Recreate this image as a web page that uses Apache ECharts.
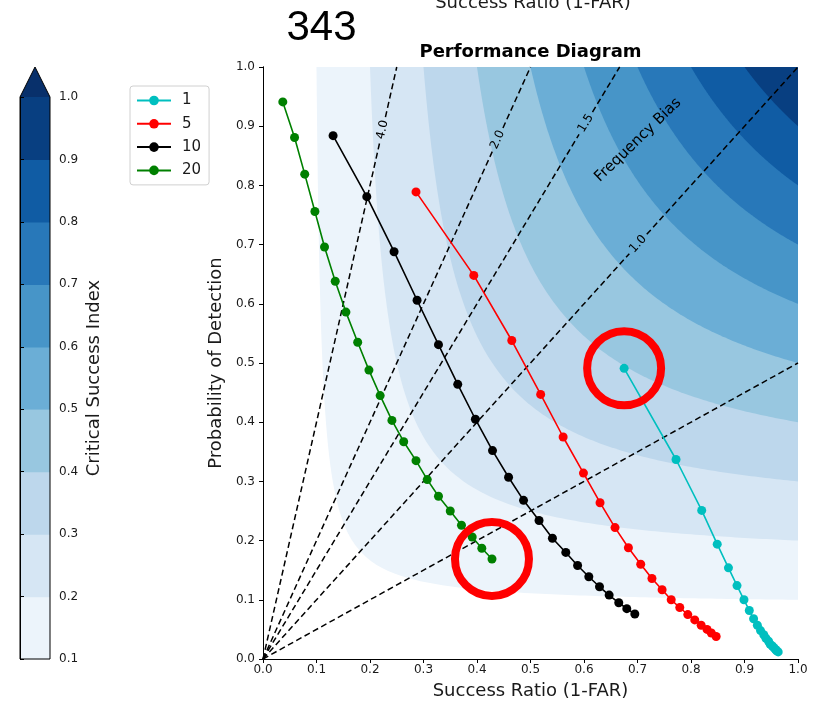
<!DOCTYPE html>
<html>
<head>
<meta charset="utf-8">
<script src="https://cdn.jsdelivr.net/npm/echarts/dist/echarts.min.js"></script>
<style>html,body{margin:0;padding:0;background:#fff}#c{width:815px;height:707px}</style>
</head>
<body>
<div id="c"></div>
<script>
// ---- data ----
const seriesNames = ['1', '5', '10', '20'];
const seriesColors = ['#00bfbf', '#ff0000', '#000000', '#008000'];

const srCyan  = [0.675,0.772,0.820,0.849,0.870,0.886,0.899,0.909,0.917,0.924,0.930,0.936,0.940,0.945,0.948,0.952,0.955,0.958,0.960,0.963];
const podCyan = [0.491,0.337,0.251,0.194,0.154,0.124,0.100,0.082,0.068,0.057,0.048,0.041,0.035,0.030,0.025,0.022,0.019,0.016,0.014,0.012];

const srRed  = [0.286,0.394,0.465,0.519,0.561,0.599,0.630,0.658,0.683,0.706,0.727,0.746,0.763,0.779,0.794,0.807,0.819,0.830,0.838,0.847];
const podRed = [0.789,0.648,0.538,0.447,0.375,0.314,0.264,0.222,0.188,0.160,0.136,0.117,0.100,0.087,0.075,0.066,0.057,0.050,0.044,0.038];

const srBlack  = [0.131,0.194,0.245,0.288,0.328,0.364,0.397,0.429,0.459,0.487,0.516,0.541,0.566,0.588,0.609,0.629,0.647,0.665,0.680,0.695];
const podBlack = [0.884,0.781,0.688,0.606,0.531,0.464,0.405,0.352,0.307,0.268,0.234,0.204,0.180,0.158,0.139,0.122,0.108,0.095,0.085,0.076];

const srGreen  = [0.037,0.059,0.078,0.097,0.115,0.135,0.155,0.177,0.198,0.219,0.241,0.263,0.286,0.307,0.328,0.350,0.371,0.391,0.409,0.428];
const podGreen = [0.941,0.881,0.819,0.756,0.696,0.638,0.586,0.535,0.488,0.445,0.403,0.367,0.335,0.303,0.275,0.250,0.226,0.206,0.187,0.169];

// CSI contour levels and colours (Blues)
const csiLevels = [0.1,0.2,0.3,0.4,0.5,0.6,0.7,0.8,0.9];
const csiColors = ['#ecf4fb','#d6e6f4','#bdd7ec','#98c7e0','#6baed6','#4795c8','#2878b9','#105ca4','#083f81'];
const csiOverColor = '#08306b';

// frequency bias lines and their label positions (POD where label sits)
const biasValues   = [0.5, 1.0, 1.5, 2.0, 4.0];
const biasLabelPOD = [0, 0.701, 0.905, 0.877, 0.894];

// ---- helpers ----
const FONT = '"DejaVu Sans", sans-serif';
function pairs(xs, ys) { return xs.map((x, i) => [x, ys[i]]); }

function renderContour(params, api) {
  const L = api.value(1);
  const idx = params.dataIndex;
  const m = 2 * L / (1 + L);
  const N = 80;
  const pts = [];
  for (let i = 0; i <= N; i++) {
    const pod = 1 - (1 - m) * i / N;
    const sr = 1 / (1 / L + 1 - 1 / pod);
    pts.push(api.coord([sr, pod]));
  }
  for (let i = 1; i <= N; i++) {
    const sr = m + (1 - m) * i / N;
    const pod = 1 / (1 / L + 1 - 1 / sr);
    pts.push(api.coord([sr, pod]));
  }
  pts.push(api.coord([1, 1]));
  return { type: 'polygon', z2: idx, shape: { points: pts }, style: { fill: csiColors[idx] } };
}

function renderBias(params, api) {
  const b = api.value(2), lp = api.value(3);
  const o = api.coord([0, 0]);
  const e = api.coord([Math.min(1, 1 / b), Math.min(1, b)]);
  const dash = { stroke: '#000', lineWidth: 1.5, lineDash: [6, 3.5], fill: null };
  if (!(lp > 0)) {
    return { type: 'line', shape: { x1: o[0], y1: o[1], x2: e[0], y2: e[1] }, style: dash };
  }
  const c = api.coord([lp / b, lp]);
  const dx = e[0] - o[0], dy = e[1] - o[1], len = Math.hypot(dx, dy);
  const ux = dx / len, uy = dy / len, g = 13;
  const ang = Math.atan2(-dy, dx);
  return { type: 'group', children: [
    { type: 'line', shape: { x1: o[0], y1: o[1], x2: c[0] - ux * g, y2: c[1] - uy * g }, style: dash },
    { type: 'line', shape: { x1: c[0] + ux * g, y1: c[1] + uy * g, x2: e[0], y2: e[1] }, style: dash },
    { type: 'text', x: c[0], y: c[1], rotation: ang,
      style: { text: b.toFixed(1), fill: '#000', font: '12px ' + FONT, align: 'center', verticalAlign: 'middle' } }
  ]};
}

function renderColorbar(params, api) {
  const L = api.value(1);
  const idx = api.value(2);
  if (idx >= 0) {
    const p0 = api.coord([0, L]);
    const p1 = api.coord([1, L + 0.1]);
    return { type: 'rect', shape: { x: p0[0], y: p1[1], width: p1[0] - p0[0], height: p0[1] - p1[1] + 0.6 },
      style: { fill: csiColors[idx] } };
  }
  const tl = api.coord([0, 1]), tr = api.coord([1, 1]);
  const bl = api.coord([0, 0.1]), br = api.coord([1, 0.1]);
  const w = tr[0] - tl[0];
  const tip = [(tl[0] + tr[0]) / 2, tl[1] - w];
  return { type: 'group', children: [
    { type: 'polygon', shape: { points: [tl, tr, tip] }, style: { fill: csiOverColor } },
    { type: 'polygon', shape: { points: [bl, tl, tip, tr, br] }, style: { fill: null, stroke: '#000', lineWidth: 1 } }
  ]};
}

const chart = echarts.init(document.getElementById('c'), null, { renderer: 'canvas' });

const tickLabel = { fontSize: 12, color: '#1a1a1a', fontFamily: FONT, formatter: v => v.toFixed(1), showMinLabel: true, showMaxLabel: true };
const spine = { lineStyle: { color: '#000', width: 1 } };

const dataSeries = [
  pairs(srCyan, podCyan), pairs(srRed, podRed), pairs(srBlack, podBlack), pairs(srGreen, podGreen)
].map((d, i) => ({
  name: seriesNames[i], type: 'line', data: d, z: 4,
  symbol: 'circle', symbolSize: 9, showSymbol: true,
  lineStyle: { color: seriesColors[i], width: 1.6 },
  itemStyle: { color: seriesColors[i] },
  emphasis: { disabled: true }, animation: false
}));

chart.setOption({
  animation: false,
  backgroundColor: '#fff',
  title: {
    text: 'Performance Diagram', left: 530.5, top: 43, textAlign: 'center', padding: 0,
    textStyle: { fontSize: 18, fontWeight: 'bold', fontFamily: FONT, color: '#000' }
  },
  legend: {
    data: seriesNames, orient: 'vertical', left: 130, top: 86, padding: [7, 8, 7, 6],
    itemGap: 8.3, itemWidth: 34, itemHeight: 12, borderColor: '#d0d0d0', borderWidth: 1, borderRadius: 3,
    backgroundColor: '#fff', selectedMode: false,
    textStyle: { fontSize: 15, color: '#1a1a1a', fontFamily: FONT, lineHeight: 15, padding: [0, 0, 0, 6] }
  },
  grid: [
    { left: 263, top: 67, width: 535, height: 592, containLabel: false, outerBoundsMode: 'none' },
    { left: 20, top: 97, width: 30, height: 562, containLabel: false, outerBoundsMode: 'none' }
  ],
  xAxis: [
    { type: 'value', gridIndex: 0, position: 'bottom', min: 0, max: 1, interval: 0.1, z: 10,
      name: 'Success Ratio (1-FAR)', nameLocation: 'middle', nameGap: 23, nameMoveOverlap: false,
      nameTextStyle: { fontSize: 18, fontFamily: FONT, color: '#1a1a1a' },
      axisLine: spine, axisTick: { show: true, inside: false, length: 4, lineStyle: { color: '#000' } },
      axisLabel: Object.assign({ margin: 5 }, tickLabel), splitLine: { show: false } },
    { type: 'value', gridIndex: 0, position: 'top', min: 0, max: 1, z: 10,
      axisLine: spine, axisTick: { show: false }, axisLabel: { show: false }, splitLine: { show: false } },
    { type: 'value', gridIndex: 1, min: 0, max: 1, show: false }
  ],
  yAxis: [
    { type: 'value', gridIndex: 0, position: 'left', min: 0, max: 1, interval: 0.1, z: 10,
      name: 'Probability of Detection', nameLocation: 'middle', nameGap: 38, nameMoveOverlap: false,
      nameTextStyle: { fontSize: 18, fontFamily: FONT, color: '#1a1a1a' },
      axisLine: spine, axisTick: { show: true, inside: false, length: 4, lineStyle: { color: '#000' } },
      axisLabel: Object.assign({ margin: 8 }, tickLabel), splitLine: { show: false } },
    { type: 'value', gridIndex: 0, position: 'right', min: 0, max: 1, z: 10,
      axisLine: spine, axisTick: { show: false }, axisLabel: { show: false }, splitLine: { show: false } },
    { type: 'value', gridIndex: 1, position: 'right', min: 0.1, max: 1.0, interval: 0.1, z: 10,
      name: 'Critical Success Index', nameLocation: 'middle', nameGap: 35, nameMoveOverlap: false,
      nameTextStyle: { fontSize: 18, fontFamily: FONT, color: '#1a1a1a' },
      axisLine: spine, axisTick: { show: true, inside: false, length: 4, lineStyle: { color: '#000' } },
      axisLabel: Object.assign({ margin: 9 }, tickLabel), splitLine: { show: false } }
  ],
  graphic: [
    { type: 'text', x: 321.5, y: 28, silent: true,
      style: { text: '343', font: '42px "Liberation Sans", sans-serif', fill: '#000', align: 'center', verticalAlign: 'middle' } },
    { type: 'text', x: 533, y: 3, silent: true,
      style: { text: 'Success Ratio (1-FAR)', font: '18px ' + FONT, fill: '#1a1a1a', align: 'center', verticalAlign: 'middle' } },
    { type: 'text', x: 638, y: 140, rotation: 44 * Math.PI / 180, silent: true, z: 5,
      style: { text: 'Frequency Bias', font: '15px ' + FONT, fill: '#000', align: 'center', verticalAlign: 'middle' } }
  ],
  series: [
    { type: 'custom', name: 'csi', xAxisIndex: 0, yAxisIndex: 0, z: 1, silent: true,
      renderItem: renderContour, encode: { x: 0, y: 1 },
      data: csiLevels.map(l => [l, l]) },
    { type: 'custom', name: 'bias', xAxisIndex: 0, yAxisIndex: 0, z: 2, silent: true,
      renderItem: renderBias, encode: { x: 0, y: 1 },
      data: biasValues.map((b, i) => [Math.min(1, 1 / b), Math.min(1, b), b, biasLabelPOD[i]]) },
    { type: 'custom', name: 'colorbar', xAxisIndex: 2, yAxisIndex: 2, z: 1, silent: true,
      renderItem: renderColorbar, encode: { x: 0, y: 1 },
      data: csiLevels.map((l, i) => [0.5, l, i]).concat([[0.5, 1.0, -1]]) },
    ...dataSeries,
    { type: 'scatter', name: 'marks', xAxisIndex: 0, yAxisIndex: 0, z: 6, silent: true,
      symbol: 'circle', symbolSize: 74,
      itemStyle: { color: 'rgba(0,0,0,0)', borderColor: '#ff0000', borderWidth: 8, opacity: 1 },
      data: [[srCyan[0], podCyan[0]], [srGreen[srGreen.length - 1], podGreen[podGreen.length - 1]]] }
  ]
});
</script>
</body>
</html>
